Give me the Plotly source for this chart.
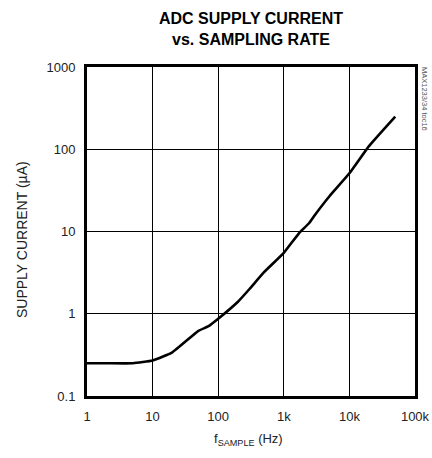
import plotly.graph_objects as go

freq_hz = [1, 2, 5, 10, 20, 50, 70, 100, 200, 300, 500, 1000, 1700, 2400, 3000, 5000, 10000, 20000, 50000]
current_ua = [0.25, 0.25, 0.25, 0.27, 0.34, 0.62, 0.7, 0.87, 1.4, 2.0, 3.2, 5.5, 9.5, 12.5, 16, 27, 51, 110, 250]

x_tickvals = [1, 10, 100, 1000, 10000, 100000]
x_ticktext = ["1", "10", "100", "1k", "10k", "100k"]
y_tickvals = [0.1, 1, 10, 100, 1000]
y_ticktext = ["0.1", "1", "10", "100", "1000"]

FONT = "Liberation Sans, Arial, sans-serif"
W, H = 432, 458
L, R, T, B = 87, 17, 67, 62

fig = go.Figure()
fig.add_trace(go.Scatter(x=freq_hz, y=current_ua, mode="lines",
                         line=dict(color="black", width=2.6, shape="spline", smoothing=0.4),
                         showlegend=False, hoverinfo="skip"))

fig.update_layout(
    width=W, height=H,
    margin=dict(l=L, r=R, t=T, b=B, autoexpand=False),
    paper_bgcolor="white", plot_bgcolor="white",
    font=dict(family=FONT, size=13, color="#222"),
)
fig.update_xaxes(type="log", range=[0, 5], tickvals=x_tickvals, ticktext=x_ticktext,
                 showgrid=True, gridcolor="black", gridwidth=1,
                 showline=True, linecolor="black", linewidth=3, mirror=True,
                 ticks="", ticklen=0, automargin=False, ticklabelstandoff=6)
fig.update_yaxes(type="log", range=[-1, 3], tickvals=y_tickvals, ticktext=y_ticktext,
                 showgrid=True, gridcolor="black", gridwidth=1,
                 showline=True, linecolor="black", linewidth=3, mirror=True,
                 ticks="", ticklen=0, automargin=False, ticklabelstandoff=6)


def paper_y(py):
    return 1 - (py - T) / (H - T - B)


def paper_x(px):
    return (px - L) / (W - L - R)


fig.add_annotation(text="<b>ADC SUPPLY CURRENT<br>vs. SAMPLING RATE</b>",
                   xref="paper", yref="paper", x=paper_x(251), y=paper_y(29),
                   xanchor="center", yanchor="middle", showarrow=False,
                   font=dict(family=FONT, size=16, color="black"))
fig.add_annotation(text="SUPPLY CURRENT (µA)", xref="paper", yref="paper",
                   x=paper_x(22), y=paper_y(240), xanchor="center", yanchor="middle",
                   textangle=-90, showarrow=False, font=dict(family=FONT, size=14, color="#222"))
fig.add_annotation(text="f<sub>SAMPLE</sub> (Hz)", xref="paper", yref="paper",
                   x=paper_x(248), y=paper_y(440), xanchor="center", yanchor="middle",
                   showarrow=False, font=dict(family=FONT, size=13, color="#222"))
fig.add_annotation(text="MAX1233/34 toc16", xref="paper", yref="paper",
                   x=paper_x(425), y=paper_y(99), xanchor="center", yanchor="middle",
                   textangle=90, showarrow=False,
                   font=dict(family=FONT, size=7.5, color="#555"))

fig.write_html("out.html", config={"displayModeBar": False},
               post_script="document.body.style.margin='0';document.body.style.overflow='hidden';")
